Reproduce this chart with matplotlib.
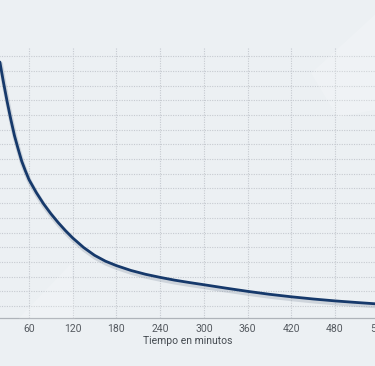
import matplotlib
matplotlib.use("Agg")
import matplotlib.pyplot as plt
import matplotlib.patheffects as pe
from matplotlib.patches import Polygon

# Data (time in minutes, value in arbitrary units)
minutes = [20, 25, 30, 35, 40, 45, 50, 55, 60, 70, 80, 90, 100, 110, 120, 135, 150, 165,
           180, 200, 220, 240, 260, 280, 300, 330, 360, 390, 420, 450, 480, 510, 545]
values = [17.6, 16.2, 14.9, 13.7, 12.6, 11.7, 10.85, 10.2, 9.6, 8.72, 7.95, 7.28, 6.68, 6.13,
          5.63, 4.98, 4.45, 4.05, 3.75, 3.42, 3.16, 2.95, 2.76, 2.6, 2.45, 2.22, 2.0, 1.8, 1.63,
          1.48, 1.35, 1.24, 1.12]
x_ticks = [60, 120, 180, 240, 300, 360, 420, 480, 540]
y_grid = list(range(1, 19))
x_label = "Tiempo en minutos"

bg = "#ecf0f3"
fig = plt.figure(figsize=(3.75, 3.66), dpi=100, facecolor=bg)

# subtle decorative light shapes in background
fig.patches.append(Polygon([[0.83, 0.80], [1.0, 0.96], [1.0, 0.70], [0.9, 0.68]],
                           closed=True, transform=fig.transFigure,
                           facecolor="white", alpha=0.18, edgecolor="none", zorder=0))
fig.patches.append(Polygon([[0.05, 0.13], [0.19, 0.28], [0.20, 0.13]],
                           closed=True, transform=fig.transFigure,
                           facecolor="white", alpha=0.18, edgecolor="none", zorder=0))

ax = fig.add_axes([-0.1, 0.1325, 1.2, 0.739])
ax.set_facecolor("none")
ax.set_xlim(-31.3, 586.4)
ax.set_ylim(0.22, 18.62)

ax.set_xticks(x_ticks)
ax.set_xticklabels([str(t) for t in x_ticks])
ax.set_yticks(y_grid)
ax.tick_params(axis="y", left=False, labelleft=False)
ax.tick_params(axis="x", length=0, pad=5, labelsize=7.5, labelcolor="#555a60")

ax.grid(True, which="major", axis="both", color="#c6cad0", linestyle=(0, (1, 1.2)), linewidth=0.8)
ax.set_axisbelow(True)

for s in ["top", "left", "right"]:
    ax.spines[s].set_visible(False)
ax.spines["bottom"].set_color("#aeb3b9")
ax.spines["bottom"].set_linewidth(0.9)

ax.plot(minutes, values, color="#16396b", linewidth=2.0, solid_capstyle="round",
        solid_joinstyle="round", zorder=3,
        path_effects=[pe.SimpleLineShadow(offset=(0.5, -1.5), shadow_color="#8a96a6", alpha=0.3, linewidth=3.5),
                      pe.Normal()])

ax.set_xlabel(x_label, fontsize=7.5, color="#444a50", labelpad=1)

for lbl in ax.get_xticklabels() + [ax.xaxis.label]:
    lbl.set_family(["Roboto", "DejaVu Sans"])

fig.savefig("out.png", dpi=100, facecolor=bg)
